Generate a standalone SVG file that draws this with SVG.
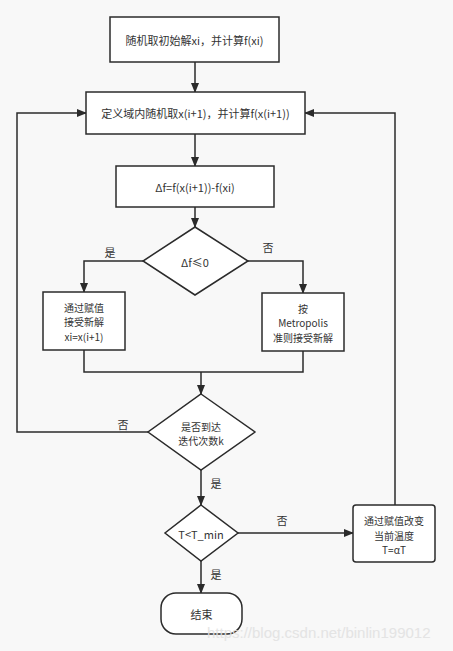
<svg xmlns="http://www.w3.org/2000/svg" width="453" height="651" viewBox="0 0 453 651">
<style>
.n{fill:#fff;stroke:#2b2b2b;stroke-width:1.5}
.t{font-family:"Noto Sans CJK SC","Noto Sans",sans-serif;font-size:11px;fill:#333;text-anchor:middle;dominant-baseline:central}
.m{font-size:10px}
.c{fill:none;stroke:#2b2b2b;stroke-width:1.5}
.wm{font-family:"Liberation Sans",Arial,sans-serif;font-size:15px;fill:#e2e2e2;opacity:0.9}
</style>
<defs>
<marker id="a" markerWidth="10" markerHeight="10" refX="9" refY="5" orient="auto" markerUnits="userSpaceOnUse">
<path d="M0,1 L10,5 L0,9 Z" fill="#2b2b2b"/>
</marker>
</defs>
<rect width="453" height="651" fill="#f8f8f8"/>
<g id="connectors">
<path class="c" d="M195,62 V92" marker-end="url(#a)"/>
<path class="c" d="M195,134 V166" marker-end="url(#a)"/>
<path class="c" d="M195,207 V227" marker-end="url(#a)"/>
<path class="c" d="M143,261 H84 V292" marker-end="url(#a)"/>
<path class="c" d="M248,261 H303 V293" marker-end="url(#a)"/>
<path class="c" d="M84,350 V372 H303 V351"/>
<path class="c" d="M201,372 V394" marker-end="url(#a)"/>
<path class="c" d="M148,432 H17 V113 H86" marker-end="url(#a)"/>
<path class="c" d="M201,470 V505" marker-end="url(#a)"/>
<path class="c" d="M238,533 H353" marker-end="url(#a)"/>
<path class="c" d="M395,505 V113 H305" marker-end="url(#a)"/>
<path class="c" d="M201,561 V593" marker-end="url(#a)"/>
<text class="t" x="110" y="252">是</text>
<text class="t" x="268" y="247">否</text>
<text class="t" x="123" y="424">否</text>
<text class="t" x="216" y="483">是</text>
<text class="t" x="282" y="520">否</text>
<text class="t" x="216" y="574">是</text>
</g>
<g id="init">
<rect class="n" x="110" y="17" width="169" height="45"/>
<text class="t" x="194.5" y="40">随机取初始解xi，并计算f(xi)</text>
</g>
<g id="sample">
<rect class="n" x="86" y="92" width="219" height="42"/>
<text class="t" x="195.5" y="113">定义域内随机取x(i+1)，并计算f(x(i+1))</text>
</g>
<g id="delta">
<rect class="n" x="116" y="166" width="158" height="41"/>
<text class="t" x="195" y="187">Δf=f(x(i+1))-f(xi)</text>
</g>
<g id="cond1">
<polygon class="n" points="195,227 248,261 195,295 143,261"/>
<text class="t" x="195" y="262">Δf≤0</text>
</g>
<g id="accept">
<rect class="n" x="43" y="292" width="82" height="58"/>
<text class="t m" x="84" y="307">通过赋值</text>
<text class="t m" x="84" y="321.5">接受新解</text>
<text class="t m" x="84" y="336">xi=x(i+1)</text>
</g>
<g id="metropolis">
<rect class="n" x="262" y="293" width="82" height="58"/>
<text class="t m" x="303" y="308">按</text>
<text class="t m" x="303" y="322.5">Metropolis</text>
<text class="t m" x="303" y="337">准则接受新解</text>
</g>
<g id="cond2">
<polygon class="n" points="201,394 255,432 201,470 148,432"/>
<text class="t m" x="201" y="426">是否到达</text>
<text class="t m" x="201" y="440.5">迭代次数k</text>
</g>
<g id="cond3">
<polygon class="n" points="201,505 238,533 201,561 165,533"/>
<text class="t" x="201" y="534">T&lt;T_min</text>
</g>
<g id="cool">
<rect class="n" x="353" y="505" width="82" height="57" rx="3"/>
<text class="t m" x="394" y="520.5">通过赋值改变</text>
<text class="t m" x="394" y="535">当前温度</text>
<text class="t m" x="394" y="549.5">T=αT</text>
</g>
<g id="end">
<rect class="n" x="161" y="593" width="81" height="41" rx="15"/>
<text class="t" x="201.5" y="614">结束</text>
</g>
<text class="wm" x="207" y="638">https://blog.csdn.net/binlin199012</text>
</svg>
